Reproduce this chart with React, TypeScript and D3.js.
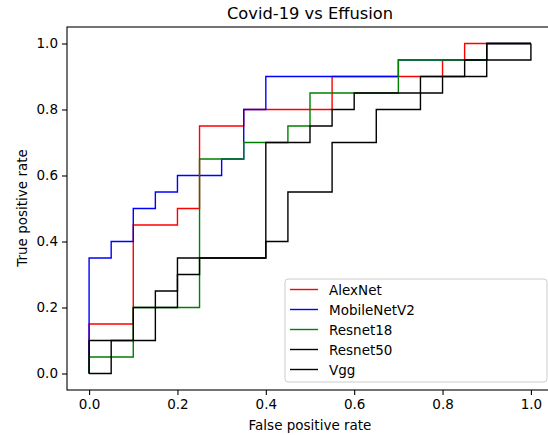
import React, { useEffect, useRef } from "react";
import * as d3 from "d3";

// ROC points (fpr / tpr per model)
const alexFpr = [0, 0, 0.1, 0.1, 0.2, 0.2, 0.25, 0.25, 0.35, 0.35, 0.55, 0.55, 0.8, 0.8, 0.85, 0.85, 1];
const alexTpr = [0, 0.15, 0.15, 0.45, 0.45, 0.5, 0.5, 0.75, 0.75, 0.8, 0.8, 0.9, 0.9, 0.95, 0.95, 1, 1];

const mobileFpr = [0, 0, 0.05, 0.05, 0.1, 0.1, 0.15, 0.15, 0.2, 0.2, 0.3, 0.3, 0.35, 0.35, 0.4, 0.4, 0.7, 0.7, 0.9, 0.9, 1];
const mobileTpr = [0, 0.35, 0.35, 0.4, 0.4, 0.5, 0.5, 0.55, 0.55, 0.6, 0.6, 0.65, 0.65, 0.8, 0.8, 0.9, 0.9, 0.95, 0.95, 1, 1];

const r18Fpr = [0, 0, 0.1, 0.1, 0.25, 0.25, 0.35, 0.35, 0.45, 0.45, 0.5, 0.5, 0.7, 0.7, 0.9, 0.9, 1];
const r18Tpr = [0, 0.05, 0.05, 0.2, 0.2, 0.65, 0.65, 0.7, 0.7, 0.75, 0.75, 0.85, 0.85, 0.95, 0.95, 1, 1];

const r50Fpr = [0, 0, 0.1, 0.1, 0.2, 0.2, 0.25, 0.25, 0.4, 0.4, 0.5, 0.5, 0.55, 0.55, 0.6, 0.6, 0.8, 0.8, 0.9, 0.9, 1];
const r50Tpr = [0, 0.1, 0.1, 0.2, 0.2, 0.3, 0.3, 0.35, 0.35, 0.7, 0.7, 0.75, 0.75, 0.8, 0.8, 0.85, 0.85, 0.9, 0.9, 1, 1];

const vggFpr = [0, 0.05, 0.05, 0.15, 0.15, 0.2, 0.2, 0.4, 0.4, 0.45, 0.45, 0.55, 0.55, 0.65, 0.65, 0.75, 0.75, 0.85, 0.85, 1, 1];
const vggTpr = [0, 0, 0.1, 0.1, 0.25, 0.25, 0.35, 0.35, 0.4, 0.4, 0.55, 0.55, 0.7, 0.7, 0.8, 0.8, 0.9, 0.9, 0.95, 0.95, 1];

const models = ["AlexNet", "MobileNetV2", "Resnet18", "Resnet50", "Vgg"];
const colors = ["#ff0000", "#0000ff", "#008000", "#000000", "#000000"];
const fprs = [alexFpr, mobileFpr, r18Fpr, r50Fpr, vggFpr];
const tprs = [alexTpr, mobileTpr, r18Tpr, r50Tpr, vggTpr];

const tickVals = [0, 0.2, 0.4, 0.6, 0.8, 1.0];

const W = 548;
const H = 435;
const font = "DejaVu Sans, sans-serif";

export default function App() {
  const ref = useRef<SVGSVGElement>(null);

  useEffect(() => {
    const svg = d3.select(ref.current);
    svg.selectAll("*").remove();

    const x = d3.scaleLinear().domain([-0.05, 1.05]).range([67, 553]);
    const y = d3.scaleLinear().domain([-0.05, 1.05]).range([390, 27]);

    const line = d3
      .line<[number, number]>()
      .x(d => x(d[0]))
      .y(d => y(d[1]));

    // curves
    const g = svg.append("g");
    models.forEach((m, i) => {
      const pts = fprs[i].map((f, j) => [f, tprs[i][j]] as [number, number]);
      g.append("path")
        .attr("d", line(pts))
        .attr("fill", "none")
        .attr("stroke", colors[i])
        .attr("stroke-width", 1.4);
    });

    // axes
    const xAxis = svg
      .append("g")
      .attr("transform", `translate(0, 390)`)
      .call(d3.axisBottom(x).tickValues(tickVals).tickSize(5).tickSizeOuter(0).tickPadding(4).tickFormat(d3.format(".1f")));
    const yAxis = svg
      .append("g")
      .attr("transform", `translate(67, 0)`)
      .call(d3.axisLeft(y).tickValues(tickVals).tickSize(5).tickSizeOuter(0).tickPadding(4).tickFormat(d3.format(".1f")));

    [xAxis, yAxis].forEach(a => {
      a.selectAll("text").attr("font-family", font).attr("font-size", 13.5).attr("fill", "#000");
      a.selectAll("line").attr("stroke", "#000").attr("stroke-width", 1.1);
      a.select(".domain").remove();
    });

    // spines
    svg
      .append("rect")
      .attr("x", 67)
      .attr("y", 27)
      .attr("width", 486)
      .attr("height", 363)
      .attr("fill", "none")
      .attr("stroke", "#000")
      .attr("stroke-width", 1.1);

    // title + labels
    svg
      .append("text")
      .attr("x", 310)
      .attr("y", 19)
      .attr("text-anchor", "middle")
      .attr("font-family", font)
      .attr("font-size", 16.3)
      .text("Covid-19 vs Effusion");
    svg
      .append("text")
      .attr("x", 310)
      .attr("y", 430)
      .attr("text-anchor", "middle")
      .attr("font-family", font)
      .attr("font-size", 13.5)
      .text("False positive rate");
    svg
      .append("text")
      .attr("transform", `translate(27, 208) rotate(-90)`)
      .attr("text-anchor", "middle")
      .attr("font-family", font)
      .attr("font-size", 13.5)
      .text("True positive rate");

    // legend
    const leg = svg.append("g").attr("transform", "translate(285, 279)");
    leg
      .append("rect")
      .attr("width", 262)
      .attr("height", 103)
      .attr("rx", 3)
      .attr("fill", "#fff")
      .attr("fill-opacity", 0.8)
      .attr("stroke", "#cccccc")
      .attr("stroke-width", 1);
    models.forEach((m, i) => {
      const cy = 10.5 + i * 20;
      leg
        .append("line")
        .attr("x1", 5)
        .attr("x2", 33)
        .attr("y1", cy)
        .attr("y2", cy)
        .attr("stroke", colors[i])
        .attr("stroke-width", 1.4);
      leg
        .append("text")
        .attr("x", 44)
        .attr("y", cy + 5)
        .attr("font-family", font)
        .attr("font-size", 13.5)
        .text(m);
    });
  }, []);

  return (
    <svg
      ref={ref}
      width={W}
      height={H}
      style={{ position: "absolute", left: 0, top: 0, background: "#fff" }}
    />
  );
}
